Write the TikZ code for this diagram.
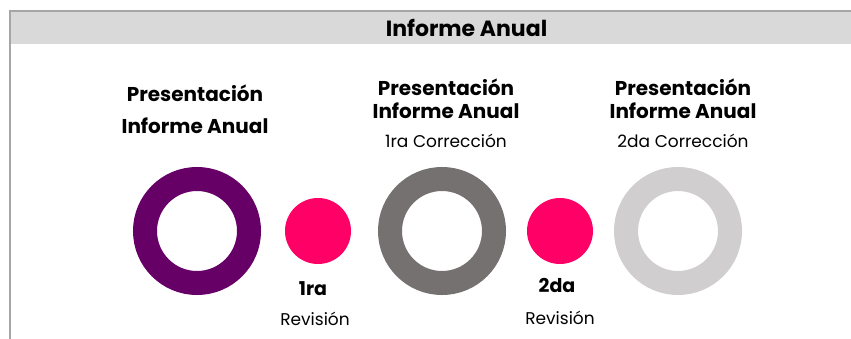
\documentclass[tikz,border=0pt]{standalone}
\usepackage{fontspec}
\setmainfont{Poppins}
\definecolor{ringpurple}{HTML}{660066}
\definecolor{ringgray}{HTML}{767171}
\definecolor{ringlight}{HTML}{D0CECE}
\definecolor{dotpink}{HTML}{FF0066}
\definecolor{bandgray}{HTML}{D9D9D9}
\definecolor{framegray}{HTML}{A6A6A6}
\begin{document}
\begin{tikzpicture}[x=1pt,y=-1pt,
  ring/.style={circle, draw=#1, line width=24pt, minimum size=104pt, inner sep=0pt},
  dot/.style={circle, fill=dotpink, minimum size=66pt, inner sep=0pt},
  title/.style={anchor=base, inner sep=0pt, font=\fontsize{20}{24}\selectfont\bfseries},
  sub/.style={anchor=base, inner sep=0pt, font=\fontsize{17}{20}\selectfont},
  rev/.style={anchor=base, inner sep=0pt, font=\fontsize{19}{22}\selectfont\bfseries}]
\useasboundingbox (0,0) rectangle (851,339);
% header band and frame
\fill[bandgray] (10,10) rectangle (851,44);
\fill[framegray] (9,10) rectangle (851,12);
\fill[framegray] (9,10) rectangle (11,339);
\node[anchor=base, inner sep=0pt, font=\fontsize{22}{26}\selectfont\bfseries] (head) at (466.5,37) {Informe Anual};
% rings and dots
\node[ring=ringpurple] (r1) at (197,231) {};
\node[dot] (d1) at (318,231) {};
\node[ring=ringgray] (r2) at (442,231) {};
\node[dot] (d2) at (560,231) {};
\node[ring=ringlight] (r3) at (678,231) {};
% titles
\node[title] (t1a) at (195,102) {Presentación};
\node[title] (t1b) at (195,134) {Informe Anual};
\node[title] (t2a) at (446,96) {Presentación};
\node[title] (t2b) at (446,119) {Informe Anual};
\node[sub] (t2c) at (446,148) {1ra Corrección};
\node[title] (t3a) at (683,96) {Presentación};
\node[title] (t3b) at (683,119) {Informe Anual};
\node[sub] (t3c) at (683,148) {2da Corrección};
% revision labels
\node[rev] (n1) at (313,295) {1ra};
\node[sub] (v1) at (315,325) {Revisión};
\node[rev] (n2) at (557,292) {2da};
\node[sub] (v2) at (560,324) {Revisión};
\end{tikzpicture}
\end{document}
